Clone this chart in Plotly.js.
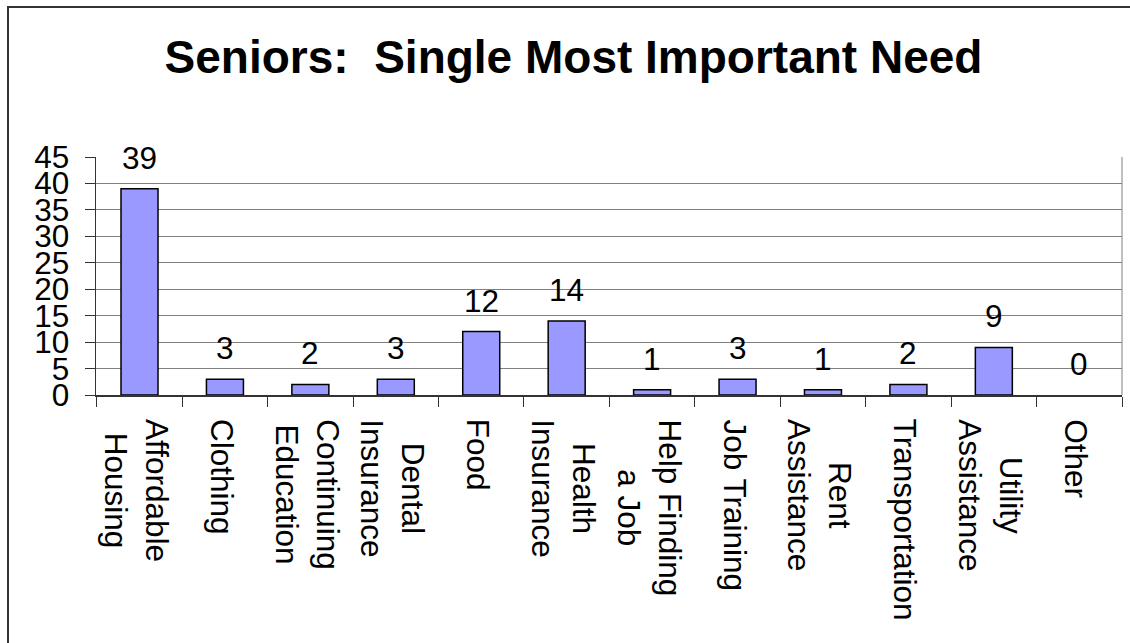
<!DOCTYPE html>
<html>
<head>
<meta charset="utf-8">
<script src="https://cdn.plot.ly/plotly-3.0.1.min.js"></script>
<style>
  html, body { margin: 0; padding: 0; background: #fff; overflow: hidden; }
  #wrap { position: relative; width: 1130px; height: 643px; overflow: hidden; }
  #chart { position: absolute; left: 0; top: 0; width: 1130px; height: 643px; }
  #frame { position: absolute; left: 7px; top: 6px; width: 1121px; height: 635px;
           border-top: 2px solid #333; border-left: 2px solid #333; pointer-events: none; }
</style>
</head>
<body>
<div id="wrap">
  <div id="chart"></div>
  <div id="frame"></div>
</div>
<script>
const categories = ["Affordable Housing", "Clothing", "Continuing Education", "Dental Insurance",
  "Food", "Health Insurance", "Help Finding a Job", "Job Training", "Rent Assistance",
  "Transportation", "Utility Assistance", "Other"];
const categoryLabels = ["Affordable<br>Housing", "Clothing", "Continuing<br>Education", "Dental<br>Insurance",
  "Food", "Health<br>Insurance", "Help Finding<br>a Job", "Job Training", "Rent<br>Assistance",
  "Transportation", "Utility<br>Assistance", "Other"];
const values = [39, 3, 2, 3, 12, 14, 1, 3, 1, 2, 9, 0];
const titleText = "Seniors:  Single Most Important Need";

const FONT = "Arial, 'Liberation Sans', sans-serif";
const FS = 31.5;

const annotations = [];
categories.forEach((c, i) => {
  annotations.push({
    x: c, y: values[i], xref: "x", yref: "y",
    text: String(values[i]), showarrow: false,
    xanchor: "center", yanchor: "bottom", yshift: 11,
    font: { family: FONT, size: FS, color: "#000" }
  });
  annotations.push({
    x: c, y: 0, xref: "x", yref: "y",
    text: categoryLabels[i], showarrow: false, textangle: 90, align: "center",
    xanchor: "center", yanchor: "top", yshift: -22, xshift: -3,
    font: { family: FONT, size: FS, color: "#000" }
  });
});

const data = [{
  type: "bar",
  x: categories,
  y: values,
  marker: {
    color: "#9999FF",
    line: { color: "#000", width: values.map(v => v === 0 ? 0 : 1.5) }
  },
  hoverinfo: "x+y"
}];

const layout = {
  width: 1130, height: 643,
  margin: { l: 96, r: 8, t: 157, b: 248, pad: 0 },
  paper_bgcolor: "#fff", plot_bgcolor: "#fff",
  showlegend: false,
  bargap: 0.567,
  title: {
    text: "<b>" + titleText + "</b>",
    font: { family: FONT, size: 46, color: "#000" },
    xref: "container", yref: "container",
    x: 573.5 / 1130, xanchor: "center",
    y: 1 - 56.5 / 643, yanchor: "middle"
  },
  xaxis: {
    type: "category",
    showticklabels: false,
    showgrid: false,
    showline: true, linecolor: "#333", linewidth: 1.5,
    ticks: "outside", tickson: "boundaries", ticklen: 10, tickcolor: "#333", tickwidth: 1,
    fixedrange: true
  },
  yaxis: {
    range: [0, 45],
    tickmode: "linear", tick0: 0, dtick: 5,
    showgrid: true, gridcolor: "#808080", gridwidth: 1,
    zeroline: false,
    showline: true, linecolor: "#333", linewidth: 1.5,
    ticks: "outside", ticklen: 10, tickcolor: "#333", tickwidth: 1,
    tickfont: { family: FONT, size: FS, color: "#000" },
    ticklabelstandoff: 9,
    fixedrange: true
  },
  shapes: [{
    type: "line", xref: "paper", yref: "paper", x0: 1, x1: 1, y0: 0, y1: 1,
    line: { color: "#808080", width: 1 }
  }],
  annotations: annotations
};

Plotly.newPlot("chart", data, layout, { displayModeBar: false, staticPlot: true });
</script>
</body>
</html>
